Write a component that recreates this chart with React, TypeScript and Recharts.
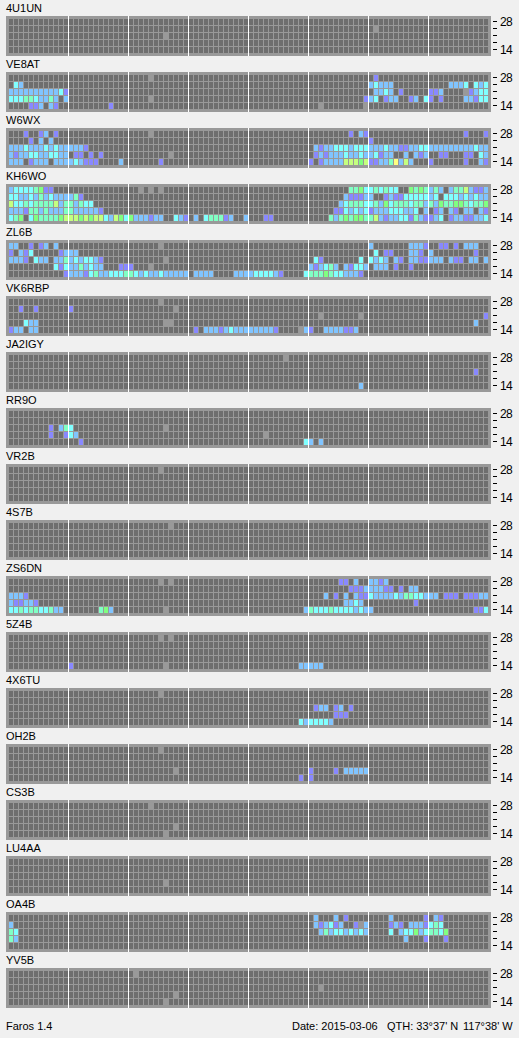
import { CartesianGrid, ReferenceLine, Scatter, ScatterChart, XAxis, YAxis } from "recharts";

// every row is a list of [first column, level codes], rows run top (28 MHz) to bottom (14 MHz)
// codes: 1-7 = signal level, g = no data, . = empty
type Row = Array<[number, string]>;

const U4U1UN: Row[] = [[], [[73, "g"]], [[31, "g"]], [], []];
const VE8AT: Row[] = [
  [[28, "g"], [73, "1"]],
  [[1, "32"], [72, "23222"], [88, "2223"], [93, "323"]],
  [[0, "222222222231"], [73, "2232"], [78, "1"], [84, "112"], [91, "g1233"]],
  [[0, "3334432242.2"], [28, "g"], [71, "123"], [75, "122"], [80, "12"], [83, "31"], [86, "1"], [91, "22133"]],
  [[4, "112.21"], [20, "1"], [62, "g"], [71, "g"]],
];
const W6WX: Row[] = [
  [[3, "1"], [6, "12"], [9, "1"], [28, "g"], [68, "1"], [70, "21"], [91, "1"], [95, "1"]],
  [[4, "1"], [6, "2"], [8, "2"], [72, "1"]],
  [[0, "2223222323222221"], [61, "21223332333"], [72, "22232211223"], [83, "3222222222"], [93, "322"]],
  [[0, "212233223322"], [13, "11"], [16, "1"], [18, "1"], [32, "g"], [61, "121222322322312"], [76, "2"], [79, "2"], [81, "212"], [86, "11"], [91, "11"], [94, "32"]],
  [[0, "222.1222.222232111"], [22, "2"], [30, "1"], [60, "1"], [62, "1222266656112247262"], [84, "1"], [91, "1"], [94, "21"]],
];
const KH6WO: Row[] = [
  [[0, "233334511"], [26, "g"], [28, "g"], [30, "g"], [68, "4453343433"], [80, "5454242"], [88, "24462112"]],
  [[0, "332232423222241"], [67, "211122"], [75, "12113333323"], [87, "333232322"]],
  [[0, "63343444462442433"], [66, "2344433425"], [76, "3444344242"], [86, "5445543445"]],
  [[0, "2221442422244222221"], [65, "1132323122"], [75, "2333223.2."], [85, "12.21.22.21"]],
  [[0, "345.354444"], [10, "5666565663"], [20, "2653522212"], [30, "2..321.2.3"], [40, "44412..2"], [51, "11"], [64, "4245455446"], [74, "2122331421"], [84, "123.12211223"]],
];
const ZL6B: Row[] = [
  [[0, "22"], [4, "1"], [6, "12"], [9, "2"], [30, "g"], [72, "2"], [80, "2221"], [86, "11"], [89, "1"], [91, "222"]],
  [[0, "1.213"], [10, "1222"], [73, "3"], [75, "11"], [80, "221"], [84, "2"], [93, "1"]],
  [[0, "2221.322.2242323321"], [31, "g"], [61, "31"], [70, "3"], [72, "3232"], [77, "21"], [80, "2211222"], [88, "211"], [92, "22"], [95, "2"]],
  [[9, "3132242322"], [22, "111"], [28, "g"], [60, "212342"], [67, "21332"], [73, "222"], [77, "1"], [80, "1"]],
  [[11, "1222134223334432322322222"], [37, "2222"], [45, "2222"], [49, "3"], [50, "33321"], [59, "344454332221"]],
];
const VK6RBP: Row[] = [
  [[30, "g"]],
  [[2, "1"], [5, "1"], [12, "1"], [33, "g"]],
  [[62, "g"], [70, "g"], [95, "1"]],
  [[3, "322"], [31, "gg"], [93, "2"]],
  [[0, "122.22"], [37, "1"], [39, "222123222222221"], [58, "g21"], [63, "2222112"]],
];
const JA2IGY: Row[] = [[[55, "g"]], [], [[93, "1"]], [], [[70, "2"]]];
const RR9O: Row[] = [
  [],
  [],
  [[8, "1"], [10, "243"], [31, "g"]],
  [[8, "1"], [11, "132"], [51, "g"]],
  [[14, "1"], [59, "32"], [62, "2"]],
];
const VR2B: Row[] = [[[30, "g"]], [], [], [], []];
const S4S7B: Row[] = [[[32, "g"]], [], [], [], []];
const ZS6DN: Row[] = [
  [[30, "g"], [32, "g"], [66, "11"], [69, "2"], [72, "2212"]],
  [[68, "11122221"], [76, "1"], [78, "1"], [80, "22"]],
  [[0, "2221"], [63, "2"], [65, "1"], [67, "2"], [69, "21132222324433222"], [87, "111"], [91, "11122"]],
  [[0, "211221"], [67, "2232"], [81, "1"]],
  [[0, "33434433422"], [18, "452"], [31, "g"], [59, "24333433332322"], [93, "113"]],
];
const Z5Z4B: Row[] = [
  [[30, "g"], [32, "g"]],
  [],
  [],
  [],
  [[12, "1"], [31, "g"], [58, "22222"]],
];
const X4X6TU: Row[] = [
  [[30, "g"]],
  [],
  [[61, "122"], [65, "12"], [68, "1"]],
  [[65, "111"]],
  [[58, "3233332"]],
];
const OH2B: Row[] = [
  [[30, "g"]],
  [],
  [],
  [[33, "g"], [60, "1"], [65, "1"], [67, "22222"]],
  [[58, "1"], [60, "1"]],
];
const CS3B: Row[] = [[[28, "g"]], [], [], [[33, "g"]], [[31, "g"]]];
const LU4AA: Row[] = [[], [], [], [[31, "g"]], []];
const OA4B: Row[] = [
  [[61, "2"], [65, "2"], [67, "1"], [76, "2"], [83, "1"], [85, "21"]],
  [[0, "2"], [61, "212312"], [69, "1g2"], [76, "121"], [80, "2221343"]],
  [[0, "43"], [62, "2423323232"], [76, "3"], [78, "2335234435"]],
  [[0, "42"], [79, "2"], [83, "1"], [87, "1"]],
  [],
];
const YV5B: Row[] = [[[25, "g"]], [], [[62, "g"]], [[33, "g"]], [[31, "g"]]];

const stations: Array<[string, Row[]]> = [
  ["4U1UN", U4U1UN],
  ["VE8AT", VE8AT],
  ["W6WX", W6WX],
  ["KH6WO", KH6WO],
  ["ZL6B", ZL6B],
  ["VK6RBP", VK6RBP],
  ["JA2IGY", JA2IGY],
  ["RR9O", RR9O],
  ["VR2B", VR2B],
  ["4S7B", S4S7B],
  ["ZS6DN", ZS6DN],
  ["5Z4B", Z5Z4B],
  ["4X6TU", X4X6TU],
  ["OH2B", OH2B],
  ["CS3B", CS3B],
  ["LU4AA", LU4AA],
  ["OA4B", OA4B],
  ["YV5B", YV5B],
];

const rowTicks = [4, 3, 2, 1, 0];
const rowLabels = ["14", "", "", "", "28"];
const hourMarks = [12, 24, 36, 48, 60, 72, 84];

const levelColors: Record<string, string> = {
  ".": "#6e6e6e",
  g: "#999999",
  "1": "#8888ff",
  "2": "#80c4ff",
  "3": "#80ffff",
  "4": "#80ffc4",
  "5": "#80ff80",
  "6": "#c4ff80",
  "7": "#ffff80",
};

const FONT = '"Liberation Sans", Arial, sans-serif';

function buildCells(rows: Row[]) {
  const cells: Array<{ col: number; row: number; level: string }> = [];
  rows.forEach((segments, r) => {
    const line = new Array(96).fill(".");
    segments.forEach(([start, codes]) => {
      codes.split("").forEach((code, i) => {
        line[start + i] = code;
      });
    });
    line.forEach((level, col) => cells.push({ col, row: 4 - r, level }));
  });
  return cells;
}

function Cell(props: any) {
  const { cx, cy, payload } = props;
  return (
    <rect
      x={Math.round(cx)}
      y={Math.round(cy - 2.5)}
      width={4}
      height={6}
      fill={levelColors[payload.level]}
      shapeRendering="crispEdges"
    />
  );
}

function RowTick(props: any) {
  const { x, y, payload } = props;
  return (
    <g>
      <line x1={x} x2={x + 4} y1={y} y2={y} stroke="#000" shapeRendering="crispEdges" />
      <text x={x + 7} y={y + 4.5} fontSize={12} letterSpacing={-0.6} fontFamily={FONT} fill="#000">
        {rowLabels[payload.value]}
      </text>
    </g>
  );
}

function StationChart({ rows }: { rows: Row[] }) {
  return (
    <ScatterChart width={519} height={56} margin={{ top: 16, right: 0, bottom: 0, left: 6 }}>
      <CartesianGrid horizontal={false} vertical={false} fill="#999999" stroke="none" />
      <XAxis type="number" dataKey="col" domain={[-0.6, 96.4]} hide />
      <YAxis
        type="number"
        dataKey="row"
        orientation="right"
        width={28}
        domain={[-6.5 / 7, 33.5 / 7]}
        ticks={rowTicks}
        interval={0}
        axisLine={false}
        tickLine={false}
        tickSize={0}
        tickMargin={2}
        tick={<RowTick />}
      />
      <Scatter data={buildCells(rows)} shape={<Cell />} isAnimationActive={false} />
      {hourMarks.map((h) => (
        <ReferenceLine key={h} x={h - 0.1} stroke="#ffffff" strokeWidth={1} />
      ))}
    </ScatterChart>
  );
}

const footerStyle = { position: "absolute", top: 1020, fontSize: 11, lineHeight: "13px", whiteSpace: "pre" } as const;

export default function App() {
  return (
    <div style={{ position: "absolute", left: 0, top: 0, width: 519, height: 1038, background: "#f0f0f0", overflow: "hidden", fontFamily: FONT, color: "#000" }}>
      {stations.map(([name, rows], i) => (
        <div key={name} style={{ position: "absolute", left: 0, top: i * 56, width: 519, height: 56 }}>
          <StationChart rows={rows} />
          <div style={{ position: "absolute", left: 6, top: 2, fontSize: 11, lineHeight: "13px" }}>{name}</div>
        </div>
      ))}
      <div style={{ ...footerStyle, left: 6 }}>Faros 1.4</div>
      <div style={{ ...footerStyle, left: 292 }}>Date: 2015-03-06</div>
      <div style={{ ...footerStyle, left: 387 }}>QTH: 33°37' N</div>
      <div style={{ ...footerStyle, left: 463 }}>117°38' W</div>
    </div>
  );
}
